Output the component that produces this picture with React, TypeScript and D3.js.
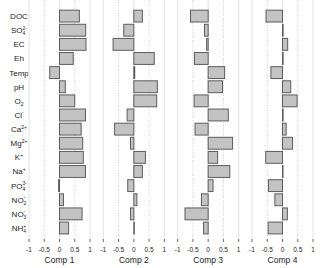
// Loadings bar chart: four component panels sharing one category axis
import React from 'react';
import * as d3 from 'd3';

const VARIABLES = [
  { base: 'DOC' },
  { base: 'SO', sub: '4', sup: '2-' },
  { base: 'EC' },
  { base: 'Eh' },
  { base: 'Temp' },
  { base: 'pH' },
  { base: 'O', sub: '2' },
  { base: 'Cl', sup: '-' },
  { base: 'Ca', sup: '2+' },
  { base: 'Mg', sup: '2+' },
  { base: 'K', sup: '+' },
  { base: 'Na', sup: '+' },
  { base: 'PO', sub: '4', sup: '3-' },
  { base: 'NO', sub: '2', sup: '-' },
  { base: 'NO', sub: '3', sup: '-' },
  { base: 'NH', sub: '4', sup: '+' },
];

const COMPONENTS = ['Comp 1', 'Comp 2', 'Comp 3', 'Comp 4'];

const comp1 = [0.65, 0.86, 0.87, 0.45, -0.32, 0.19, 0.5, 0.85, 0.71, 0.76, 0.78, 0.85, -0.03, 0.13, 0.74, 0.3];
const comp2 = [0.28, -0.33, -0.68, 0.67, 0.03, 0.77, 0.75, -0.22, -0.63, -0.11, 0.38, 0.28, -0.2, 0.1, -0.11, 0.01];
const comp3 = [-0.58, -0.12, -0.05, -0.45, 0.54, 0.47, -0.46, 0.66, -0.43, 0.8, 0.31, 0.71, 0.16, -0.22, -0.76, -0.15];
const comp4 = [-0.54, 0.02, 0.17, 0.02, -0.38, 0.27, 0.48, 0.02, 0.12, 0.33, -0.55, 0.01, -0.46, -0.25, 0.16, -0.47];

const LOADINGS = [comp1, comp2, comp3, comp4];
const TICKS = [-1, -0.5, 0, 0.5, 1];

const FONT = '"Liberation Sans", Arial, sans-serif';

export default function App() {
  const W = 320;
  const H = 268;
  const panelW = 61;
  const top = 7.9;
  const bottom = 236.2;
  const gridTop = 0;
  const gridBottom = 239;

  const y = d3.scaleBand<number>()
    .domain(VARIABLES.map((_, i) => i))
    .range([top, bottom])
    .padding(0.16);

  const panelX = d3.scalePoint<string>()
    .domain(COMPONENTS)
    .range([29, 252]);

  return (
    <svg width={W} height={H} style={{ position: 'absolute', left: 0, top: 0, fontFamily: FONT }}>
      <rect width={W} height={H} fill="#fff" />

      {/* variable labels */}
      {VARIABLES.map((v, i) => {
        const cy = (y(i) ?? 0) + y.bandwidth() / 2;
        return (
          <text key={i} x={19} y={cy + 3} textAnchor="middle" fontSize={8} fill="#222">
            <tspan>{v.base}</tspan>
            {v.sub && <tspan fontSize={5} dy={2}>{v.sub}</tspan>}
            {v.sup && (
              <tspan fontSize={5} dx={v.sub ? -2.8 : 0} dy={v.sub ? -5.5 : -3.5}>{v.sup}</tspan>
            )}
          </text>
        );
      })}

      {COMPONENTS.map((name, p) => {
        const x0 = panelX(name) ?? 0;
        const x = d3.scaleLinear().domain([-1, 1]).range([x0, x0 + panelW]);
        const data = LOADINGS[p];
        return (
          <g key={name}>
            {/* grid */}
            {TICKS.map(t => (
              <line
                key={t}
                x1={x(t)} x2={x(t)} y1={gridTop} y2={gridBottom}
                stroke={Math.abs(t) === 0.5 ? '#cfcfcf' : '#e2e2e2'}
                strokeWidth={1}
                strokeDasharray={Math.abs(t) === 0.5 ? '1,1.5' : undefined}
              />
            ))}
            {/* bars */}
            {data.map((v, i) => (
              <rect
                key={i}
                x={x(Math.min(0, v))}
                y={y(i)}
                width={Math.max(0.5, Math.abs(x(v) - x(0)))}
                height={y.bandwidth()}
                fill="#c3c3c3"
                stroke="#5c5c5c"
                strokeWidth={1}
              />
            ))}
            {/* axis ticks */}
            {TICKS.map(t => (
              <g key={'t' + t}>
                <line x1={x(t)} x2={x(t)} y1={gridBottom} y2={gridBottom + 3} stroke="#444" strokeWidth={0.8} />
                <text x={x(t)} y={252} textAnchor="middle" fontSize={6.5} fill="#222">{t === 0 ? '0' : String(t)}</text>
              </g>
            ))}
            <text x={x(0)} y={263} textAnchor="middle" fontSize={8.5} fill="#222">{name}</text>
          </g>
        );
      })}
    </svg>
  );
}
